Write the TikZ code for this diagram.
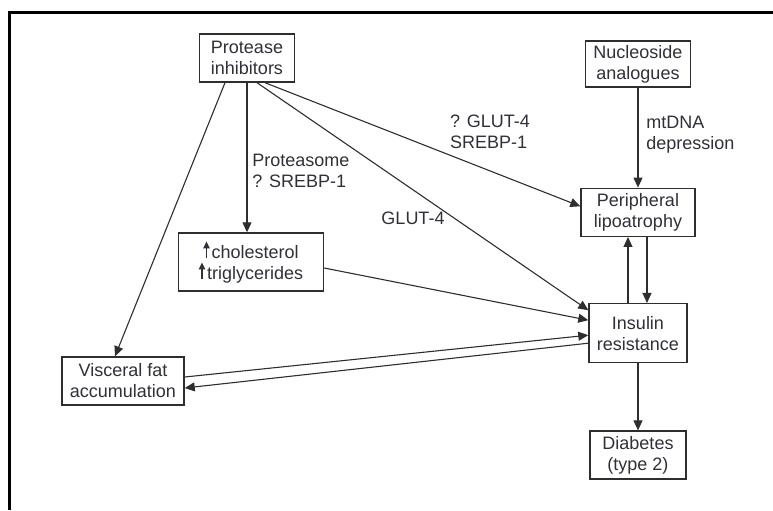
\documentclass[tikz,border=0pt]{standalone}
\usepackage{fontspec}
\setmainfont{Liberation Sans}
\usepackage{tikz}
\usetikzlibrary{
  arrows.meta,
  positioning
}
\definecolor{InkGrey}{HTML}{2E2E2E}
\definecolor{TextInk}{HTML}{303038}
% Small solid up arrow used inside text
\newcommand{\uparr}{\tikz[baseline=0pt]\draw[-{Triangle[length=3.5pt,width=3.2pt]},
  line width=0.6pt, color=TextInk] (0pt,0pt) -- (0pt,8.5pt);\hspace{1pt}}
\tikzset{
  % Plain box: auto size, centred text
  box/.style={
    rectangle, draw=InkGrey, line width=0.7pt, fill=white,
    minimum height=24pt, inner xsep=4pt, inner ysep=2pt,
    align=center, text=TextInk, font=\fontsize{9}{10.5}\selectfont
  },
  % Arrow
  arr/.style={
    -{Triangle[length=5pt,width=4.5pt]},
    line width=0.55pt, color=InkGrey
  },
  % Edge label
  lbl/.style={font=\fontsize{9}{10.5}\selectfont, text=TextInk, inner sep=1pt},
  % Frame rule
  rule/.style={line width=1.5pt, color=black}
}
\begin{document}
\begin{tikzpicture}[x=0.5pt, y=-0.5pt]
  \useasboundingbox (0,0) rectangle (773,510);
  \draw[rule] (9,510) -- (9,12) -- (773,12);

  % Left column
  \node[box, minimum width=47.5pt] (prot) at (247,58) {Protease\\inhibitors};
  \node[box, minimum width=72.5pt, minimum height=29pt] (chol) at (251,262)
    {\uparr cholesterol\\\uparr triglycerides};
  \node[box, minimum width=58pt] (visc) at (123,381) {Visceral fat\\accumulation};

  % Right column
  \node[box, minimum width=50pt, minimum height=22pt] (nuc) at (638,64) {Nucleoside\\analogues};
  \node[box, minimum width=57pt, below=50pt of nuc] (peri) {Peripheral\\lipoatrophy};
  \node[box, minimum width=48pt, minimum height=29.5pt, below=33pt of peri] (ins) {Insulin\\resistance};
  \node[box, minimum width=48pt, below=33.5pt of ins] (diab) {Diabetes\\(type 2)};

  % Edge labels
  \node[lbl, anchor=west, align=left] (lprot) at (250,171) {Proteasome\\? SREBP-1};
  \node[lbl] (lglut) at (413,218) {GLUT-4};
  \node[lbl, align=left] (lglsr) at (490,132) {? GLUT-4\\SREBP-1};
  \node[lbl, anchor=west, align=left] (lmt) at (644,135) {mtDNA\\depression};

  \draw[arr] (prot.south) -- (prot.south |- chol.north);
  \draw[arr] ([xshift=-11pt]prot.south) -- ([xshift=-4pt]visc.north);
  \draw[arr] ([xshift=5pt]prot.south) -- ([yshift=11.5pt]ins.west);
  \draw[arr] ([xshift=9pt]prot.south) -- ([yshift=3pt]peri.west);
  \draw[arr] ([yshift=-3pt]chol.east) -- ([yshift=6.5pt]ins.west);
  \draw[arr] ([yshift=2pt]visc.east) -- ([yshift=-1pt]ins.west);
  \draw[arr] ([yshift=-5pt]ins.west) -- ([yshift=-3.5pt]visc.east);

  \draw[arr] (nuc) -- (peri);
  \draw[arr] ([xshift=4.5pt]peri.south) -- ([xshift=4.5pt]peri.south |- ins.north);
  \draw[arr] ([xshift=-5pt]peri.south |- ins.north) -- ([xshift=-5pt]peri.south);
  \draw[arr] (ins) -- (diab);
\end{tikzpicture}
\end{document}
